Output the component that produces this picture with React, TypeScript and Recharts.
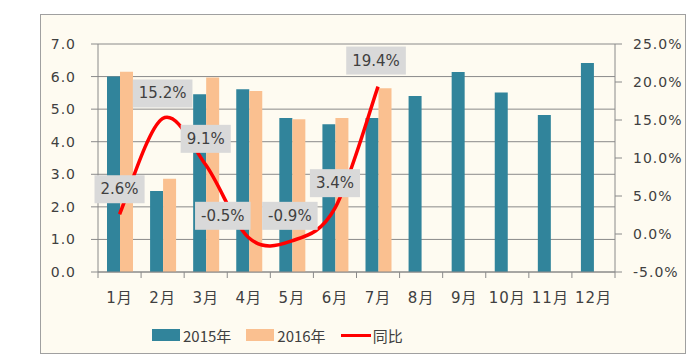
import React from 'react';
import { ComposedChart, Bar, Line, XAxis, YAxis, CartesianGrid, Legend, LabelList } from 'recharts';

const months = ['1月', '2月', '3月', '4月', '5月', '6月', '7月', '8月', '9月', '10月', '11月', '12月'];
const sales2015 = [6.0, 2.49, 5.46, 5.61, 4.73, 4.54, 4.73, 5.4, 6.14, 5.51, 4.82, 6.42];
const sales2016: (number | null)[] = [6.15, 2.86, 5.97, 5.56, 4.69, 4.73, 5.64, null, null, null, null, null];
const yoy: (number | null)[] = [2.6, 15.2, 9.1, -0.5, -0.9, 3.4, 19.4, null, null, null, null, null];
const leftTicks = [0, 1, 2, 3, 4, 5, 6, 7];
const rightTicks = [-5, 0, 5, 10, 15, 20, 25];

// label box shifts (style only)
const labelShift: [number, number][] = [
  [0, -25], [0, -25], [0, -26], [-26, -22], [-2, -25], [0, -25], [-2, -26],
];

const data = months.map((m, i) => ({ month: m, s2015: sales2015[i], s2016: sales2016[i], yoy: yoy[i] }));

const C2015 = '#31849B';
const C2016 = '#FAC090';
const CRED = '#FF0000';
const AXIS = '#8A8A8A';
const TEXT = '#404040';
const NUM_FONT = '"DejaVu Sans", Verdana, sans-serif';
const MIX_FONT = '"DejaVu Sans", "Noto Sans CJK SC", sans-serif';
const CJK_FONT = '"Noto Sans CJK SC", "DejaVu Sans", sans-serif';
const X_TICK_SIZE = 6;
const X_TICK_MARGIN = 14;

// Catmull-Rom style smoothing (like Excel smoothed lines)
const smoothCurve: any = (context: any) => {
  let pts: [number, number][] = [];
  return {
    areaStart() {},
    areaEnd() {},
    lineStart() { pts = []; },
    point(x: number, y: number) { pts.push([+x, +y]); },
    lineEnd() {
      if (!pts.length) return;
      context.moveTo(pts[0][0], pts[0][1]);
      for (let i = 0; i < pts.length - 1; i++) {
        const p0 = pts[i - 1] || pts[i];
        const p1 = pts[i];
        const p2 = pts[i + 1];
        const p3 = pts[i + 2] || p2;
        context.bezierCurveTo(
          p1[0] + (p2[0] - p0[0]) / 6, p1[1] + (p2[1] - p0[1]) / 6,
          p2[0] - (p3[0] - p1[0]) / 6, p2[1] - (p3[1] - p1[1]) / 6,
          p2[0], p2[1]
        );
      }
    },
  };
};

const charW: Record<string, number> = { '.': 0.318, '%': 0.95, '-': 0.361 };
const textWidth = (s: string, size: number) =>
  s.split('').reduce((a, c) => a + (charW[c] ?? 0.636), 0) * size;

const YoyLabel = (props: any) => {
  const { x, y, value, index } = props;
  if (value == null || x == null || y == null) return null;
  const txt = `${Number(value).toFixed(1)}%`;
  const [dx, dy] = labelShift[index] || [0, -25];
  const w = textWidth(txt, 15) + 12;
  const h = 28;
  const cx = x + dx;
  const cy = y + dy;
  return (
    <g>
      <rect x={cx - w / 2} y={cy - h / 2} width={w} height={h} fill="#D9D9D9" />
      <text x={cx} y={cy} textAnchor="middle" dominantBaseline="central" fontSize={15} fontFamily={NUM_FONT} fill={TEXT}>
        {txt}
      </text>
    </g>
  );
};

// Category tick: label at centre, tick marks at the category boundaries (Excel style)
const MonthTick = (props: any) => {
  const { x, y, payload, index, visibleTicksCount } = props;
  const half = payload?.offset ?? 0;
  const axisY = y - X_TICK_SIZE - X_TICK_MARGIN;
  const isLast = index === (visibleTicksCount ?? months.length) - 1;
  return (
    <g>
      <line x1={x - half} x2={x - half} y1={axisY} y2={axisY + X_TICK_SIZE} stroke={AXIS} />
      {isLast && <line x1={x + half} x2={x + half} y1={axisY} y2={axisY + X_TICK_SIZE} stroke={AXIS} />}
      <text x={x} y={y} dy="0.71em" textAnchor="middle" fontSize={15} letterSpacing={1} fill={TEXT} fontFamily={MIX_FONT}>
        {payload?.value}
      </text>
    </g>
  );
};

const LegendContent = (props: any) => {
  const payload = props.payload || [];
  return (
    <div style={{ display: 'flex', alignItems: 'center', paddingLeft: 152, height: 26, fontFamily: CJK_FONT, fontSize: 15, color: TEXT }}>
      {payload.map((p: any, i: number) => (
        <div key={i} style={{ display: 'flex', alignItems: 'center', marginRight: 15 }}>
          {p.type === 'line' ? (
            <div style={{ width: 30, height: 3, background: p.color, marginRight: 2 }} />
          ) : (
            <div style={{ width: 28, height: 12, background: p.color, marginRight: 3 }} />
          )}
          <span>{p.value}</span>
        </div>
      ))}
    </div>
  );
};

const tickStyle = { fontSize: 14, fill: TEXT, fontFamily: NUM_FONT, letterSpacing: 1 };

export default function App() {
  return (
    <div style={{ position: 'absolute', left: 0, top: 0, width: 700, height: 362, background: '#FFFFFF' }}>
      <div style={{ position: 'absolute', left: 40, top: 14, width: 644, height: 338, background: '#FEFBF1', border: '1px solid #A0A0A0' }} />
      <div style={{ position: 'absolute', left: 0, top: 0 }}>
        <ComposedChart width={700} height={362} data={data} margin={{ top: 44, right: 15, left: 48, bottom: 60 }} barGap={0}>
          <CartesianGrid xAxisId="cat" yAxisId="left" vertical={false} stroke={AXIS} strokeWidth={1} />
          <XAxis
            xAxisId="cat"
            dataKey="month"
            axisLine={{ stroke: AXIS }}
            tickLine={false}
            tickSize={X_TICK_SIZE}
            tickMargin={X_TICK_MARGIN}
            height={30}
            interval={0}
            tick={<MonthTick />}
          />
          <YAxis
            yAxisId="left"
            orientation="left"
            domain={[0, 7]}
            ticks={leftTicks}
            width={50}
            tickSize={7}
            tickMargin={15}
            axisLine={{ stroke: AXIS }}
            tickLine={{ stroke: AXIS }}
            tickFormatter={(v: number) => v.toFixed(1)}
            tick={tickStyle}
          />
          <YAxis
            yAxisId="right"
            orientation="right"
            domain={[-5, 25]}
            ticks={rightTicks}
            width={70}
            tickSize={7}
            tickMargin={11}
            axisLine={{ stroke: AXIS }}
            tickLine={{ stroke: AXIS }}
            tickFormatter={(v: number) => `${v.toFixed(1)}%`}
            tick={tickStyle}
          />
          <Bar xAxisId="cat" yAxisId="left" dataKey="s2015" name="2015年" fill={C2015} barSize={13} legendType="rect" isAnimationActive={false} />
          <Bar xAxisId="cat" yAxisId="left" dataKey="s2016" name="2016年" fill={C2016} barSize={13} legendType="rect" isAnimationActive={false} />
          <Line
            xAxisId="cat"
            yAxisId="right"
            dataKey="yoy"
            name="同比"
            type={smoothCurve}
            stroke={CRED}
            strokeWidth={3.5}
            dot={false}
            activeDot={false}
            legendType="line"
            isAnimationActive={false}
          >
            <LabelList dataKey="yoy" content={<YoyLabel />} />
          </Line>
          <Legend
            layout="horizontal"
            verticalAlign="middle"
            align="center"
            content={<LegendContent />}
            wrapperStyle={{ left: 0, top: 322, width: 700, height: 26 }}
          />
        </ComposedChart>
      </div>
    </div>
  );
}
